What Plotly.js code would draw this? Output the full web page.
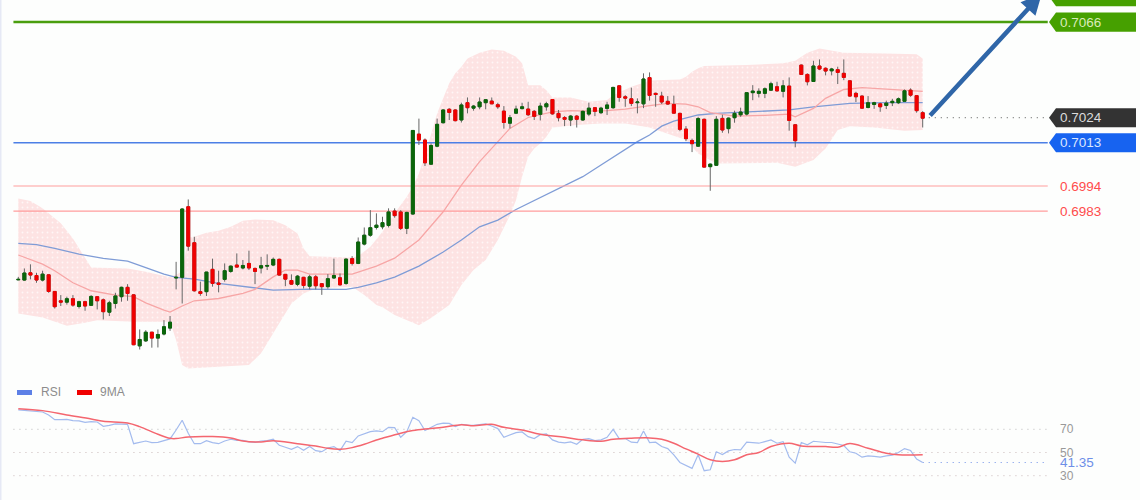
<!DOCTYPE html>
<html>
<head>
<meta charset="utf-8">
<script src="https://cdn.plot.ly/plotly-3.0.1.min.js"></script>
<style>
  html, body { margin: 0; padding: 0; background: #fdfefd; }
  #chart { width: 1140px; height: 500px; }
</style>
</head>
<body>
<div id="chart"></div>
<script>
// candles
const opens = [
  0.69528,0.69527,0.69559,0.69547,0.69527,0.69550,0.69477,0.69436,0.69430,0.69445,
  0.69411,0.69432,0.69416,0.69454,0.69440,0.69386,0.69424,0.69454,0.69495,0.69462,
  0.69238,0.69260,0.69298,0.69272,0.69290,0.69316,0.69536,0.69539,0.69849,0.69691,
  0.69476,0.69476,0.69574,0.69514,0.69530,0.69565,0.69593,0.69580,0.69600,0.69578,
  0.69580,0.69588,0.69593,0.69618,0.69552,0.69525,0.69508,0.69539,0.69500,0.69541,
  0.69511,0.69498,0.69536,0.69537,0.69512,0.69621,0.69600,0.69685,0.69724,0.69758,
  0.69761,0.69767,0.69830,0.69826,0.69754,0.69817,0.70168,0.70142,0.70036,0.70115,
  0.70218,0.70277,0.70274,0.70230,0.70306,0.70282,0.70288,0.70306,0.70313,0.70297,
  0.70269,0.70216,0.70260,0.70280,0.70278,0.70268,0.70255,0.70288,0.70320,0.70259,
  0.70241,0.70230,0.70247,0.70230,0.70256,0.70284,0.70262,0.70281,0.70284,0.70380,
  0.70332,0.70323,0.70306,0.70301,0.70416,0.70347,0.70335,0.70312,0.70298,0.70259,
  0.70190,0.70140,0.70115,0.70233,0.70025,0.70031,0.70237,0.70192,0.70240,0.70253,
  0.70256,0.70350,0.70347,0.70347,0.70361,0.70376,0.70356,0.70379,0.70209,0.70471,
  0.70430,0.70399,0.70467,0.70457,0.70446,0.70451,0.70435,0.70402,0.70347,0.70335,
  0.70285,0.70298,0.70301,0.70294,0.70306,0.70306,0.70312,0.70361,0.70337,0.70262
];
const closes = [
  0.69530,0.69558,0.69549,0.69527,0.69553,0.69477,0.69410,0.69430,0.69445,0.69417,
  0.69432,0.69413,0.69455,0.69436,0.69388,0.69427,0.69457,0.69495,0.69468,0.69243,
  0.69266,0.69298,0.69272,0.69288,0.69322,0.69342,0.69539,0.69839,0.69676,0.69480,
  0.69468,0.69562,0.69512,0.69508,0.69568,0.69588,0.69584,0.69591,0.69580,0.69565,
  0.69590,0.69591,0.69618,0.69549,0.69531,0.69509,0.69544,0.69503,0.69541,0.69502,
  0.69498,0.69533,0.69547,0.69506,0.69619,0.69600,0.69694,0.69724,0.69757,0.69768,
  0.69779,0.69826,0.69810,0.69754,0.69824,0.70184,0.70142,0.70042,0.70118,0.70211,
  0.70274,0.70263,0.70227,0.70296,0.70284,0.70291,0.70309,0.70319,0.70301,0.70288,
  0.70219,0.70240,0.70278,0.70288,0.70253,0.70246,0.70291,0.70301,0.70257,0.70240,
  0.70233,0.70247,0.70233,0.70268,0.70282,0.70268,0.70282,0.70296,0.70373,0.70329,
  0.70326,0.70303,0.70309,0.70410,0.70338,0.70342,0.70309,0.70300,0.70260,0.70189,
  0.70148,0.70126,0.70236,0.70023,0.70036,0.70233,0.70186,0.70238,0.70259,0.70265,
  0.70350,0.70357,0.70356,0.70367,0.70389,0.70358,0.70380,0.70228,0.70139,0.70430,
  0.70398,0.70467,0.70454,0.70445,0.70454,0.70439,0.70417,0.70335,0.70332,0.70282,
  0.70306,0.70306,0.70288,0.70304,0.70312,0.70323,0.70358,0.70339,0.70271,0.70238
];
const highs = [
  0.69541,0.69578,0.69596,0.69559,0.69568,0.69552,0.69477,0.69461,0.69454,0.69461,
  0.69436,0.69436,0.69461,0.69457,0.69446,0.69436,0.69471,0.69498,0.69509,0.69465,
  0.69310,0.69307,0.69299,0.69310,0.69351,0.69369,0.69607,0.69842,0.69881,0.69717,
  0.69520,0.69563,0.69621,0.69568,0.69600,0.69591,0.69644,0.69615,0.69656,0.69582,
  0.69629,0.69640,0.69626,0.69621,0.69553,0.69552,0.69549,0.69541,0.69550,0.69549,
  0.69512,0.69553,0.69621,0.69556,0.69621,0.69632,0.69714,0.69758,0.69834,0.69820,
  0.69805,0.69842,0.69842,0.69834,0.69827,0.70184,0.70236,0.70149,0.70127,0.70236,
  0.70277,0.70282,0.70277,0.70306,0.70329,0.70296,0.70329,0.70320,0.70329,0.70306,
  0.70291,0.70252,0.70293,0.70306,0.70310,0.70274,0.70306,0.70310,0.70320,0.70274,
  0.70247,0.70252,0.70252,0.70271,0.70306,0.70285,0.70288,0.70310,0.70376,0.70383,
  0.70339,0.70372,0.70325,0.70435,0.70439,0.70350,0.70354,0.70335,0.70337,0.70262,
  0.70203,0.70148,0.70244,0.70236,0.70039,0.70247,0.70253,0.70241,0.70271,0.70284,
  0.70350,0.70383,0.70369,0.70373,0.70398,0.70398,0.70405,0.70417,0.70212,0.70474,
  0.70435,0.70490,0.70496,0.70461,0.70459,0.70464,0.70496,0.70405,0.70354,0.70338,
  0.70335,0.70310,0.70306,0.70315,0.70323,0.70329,0.70364,0.70369,0.70339,0.70269
];
const lows = [
  0.69527,0.69524,0.69530,0.69515,0.69521,0.69471,0.69402,0.69413,0.69419,0.69410,
  0.69402,0.69392,0.69413,0.69398,0.69354,0.69369,0.69402,0.69432,0.69436,0.69241,
  0.69222,0.69255,0.69230,0.69231,0.69284,0.69304,0.69486,0.69424,0.69656,0.69476,
  0.69458,0.69457,0.69498,0.69473,0.69520,0.69559,0.69582,0.69574,0.69571,0.69509,
  0.69556,0.69571,0.69588,0.69546,0.69500,0.69506,0.69500,0.69490,0.69486,0.69486,
  0.69462,0.69489,0.69533,0.69503,0.69506,0.69591,0.69597,0.69679,0.69717,0.69749,
  0.69750,0.69758,0.69801,0.69747,0.69729,0.69814,0.70120,0.70028,0.70033,0.70110,
  0.70215,0.70230,0.70224,0.70219,0.70259,0.70271,0.70277,0.70277,0.70300,0.70279,
  0.70192,0.70193,0.70256,0.70277,0.70247,0.70230,0.70228,0.70271,0.70253,0.70224,
  0.70203,0.70203,0.70197,0.70227,0.70247,0.70247,0.70256,0.70252,0.70279,0.70310,
  0.70288,0.70291,0.70259,0.70282,0.70315,0.70288,0.70300,0.70296,0.70259,0.70181,
  0.70137,0.70089,0.70113,0.70022,0.69919,0.70028,0.70174,0.70171,0.70218,0.70244,
  0.70250,0.70317,0.70329,0.70326,0.70358,0.70354,0.70329,0.70183,0.70110,0.70429,
  0.70382,0.70397,0.70449,0.70426,0.70426,0.70388,0.70405,0.70332,0.70309,0.70279,
  0.70281,0.70279,0.70266,0.70278,0.70291,0.70300,0.70309,0.70332,0.70262,0.70197
];

// bollinger envelope, sampled at the candle index where it could be read
const upperIdx = [0,2,4,7,9,11,12,18,21,25,27,28,29,31,33,35,37,39,42,44,46,47,48,55,56,58,60,62,64,65,66,67,68,69,70,71,72,73,74,76,78,80,82,83,84,86,87,88,91,94,97,98,101,104,105,109,110,111,112,113,120,126,128,129,130,132,136,143,148,149];
const upperBand = [0.69885,0.69874,0.69842,0.69776,0.69710,0.69622,0.69582,0.69578,0.69563,0.69539,0.69563,0.69714,0.69717,0.69735,0.69743,0.69761,0.69787,0.69793,0.69790,0.69768,0.69732,0.69666,0.69632,0.69626,0.69632,0.69673,0.69739,0.69820,0.69893,0.69937,0.69995,0.70076,0.70171,0.70259,0.70325,0.70391,0.70435,0.70464,0.70500,0.70525,0.70540,0.70534,0.70508,0.70479,0.70383,0.70383,0.70361,0.70329,0.70329,0.70310,0.70318,0.70339,0.70376,0.70402,0.70405,0.70408,0.70420,0.70442,0.70457,0.70467,0.70471,0.70479,0.70490,0.70508,0.70525,0.70544,0.70525,0.70522,0.70519,0.70500];
const lowerIdx = [0,4,8,11,13,19,25,26,27,28,38,40,43,45,47,49,55,57,59,60,62,66,68,71,73,75,77,79,80,81,82,83,84,85,86,87,88,92,96,100,104,106,110,112,115,125,128,131,133,135,137,141,146,149];
const lowerBand = [0.69380,0.69363,0.69326,0.69339,0.69351,0.69344,0.69344,0.69263,0.69154,0.69139,0.69154,0.69205,0.69337,0.69424,0.69468,0.69490,0.69498,0.69461,0.69417,0.69408,0.69373,0.69329,0.69360,0.69417,0.69505,0.69571,0.69615,0.69703,0.69754,0.69812,0.69878,0.69981,0.70069,0.70105,0.70127,0.70156,0.70197,0.70208,0.70215,0.70215,0.70197,0.70178,0.70142,0.70083,0.70039,0.70042,0.70025,0.70054,0.70105,0.70186,0.70203,0.70197,0.70183,0.70186];

// moving averages on the price panel
const midIdx = [0,2,4,6,9,12,16,19,21,24,25,27,29,33,37,39,42,44,46,48,55,57,59,62,66,70,73,76,79,81,84,85,88,91,94,97,100,104,107,110,112,114,118,123,127,128,131,133,136,139,145,149];
const midLine = [0.69637,0.69618,0.69597,0.69568,0.69515,0.69480,0.69461,0.69454,0.69427,0.69395,0.69386,0.69413,0.69436,0.69446,0.69468,0.69486,0.69541,0.69571,0.69571,0.69553,0.69553,0.69571,0.69588,0.69623,0.69703,0.69827,0.69944,0.70047,0.70135,0.70193,0.70241,0.70247,0.70266,0.70271,0.70269,0.70271,0.70278,0.70293,0.70303,0.70300,0.70288,0.70262,0.70247,0.70250,0.70256,0.70244,0.70281,0.70325,0.70364,0.70372,0.70361,0.70356];
const slowIdx = [0,3,6,10,14,18,21,24,26,29,33,38,42,48,54,56,59,62,66,70,73,76,79,82,90,93,96,102,104,106,108,112,115,120,127,131,137,143,149];
const slowLine = [0.69688,0.69683,0.69666,0.69641,0.69622,0.69610,0.69582,0.69553,0.69539,0.69531,0.69512,0.69495,0.69483,0.69487,0.69486,0.69495,0.69515,0.69540,0.69588,0.69650,0.69703,0.69761,0.69790,0.69837,0.69944,0.69981,0.70032,0.70135,0.70164,0.70203,0.70225,0.70252,0.70259,0.70266,0.70274,0.70288,0.70303,0.70306,0.70306];

// RSI panel, one reading per candle
const rsiValues = [
  86.7,86.4,85.8,85.2,84.9,82.4,78.3,78.3,78.6,77.5,
  77.2,76.0,76.6,76.3,72.6,73.4,74.6,74.5,74.3,57.6,
  58.8,59.9,58.5,58.8,60.2,61.7,69.4,77.8,66.6,57.6,
  57.6,60.2,58.5,57.6,59.9,61.4,60.5,60.5,59.1,58.8,
  59.9,60.2,61.4,56.2,54.5,52.8,55.1,51.9,55.1,51.6,
  50.7,53.9,55.1,51.6,59.7,58.5,64.3,66.3,68.0,68.6,
  68.0,71.7,71.4,63.1,68.0,80.3,77.4,68.9,71.7,74.3,
  75.4,75.1,72.3,74.3,73.7,73.4,74.0,74.6,72.9,70.6,
  63.1,64.9,67.1,67.7,63.7,62.0,65.4,66.0,60.9,58.9,
  58.3,59.1,57.1,61.4,62.0,60.3,60.9,63.1,70.0,62.0,
  62.0,58.9,58.6,68.6,58.6,58.9,55.1,53.4,48.0,41.4,
  38.6,36.3,48.0,34.3,35.1,50.6,48.3,51.4,52.6,52.3,
  58.9,58.6,58.0,59.4,60.9,58.0,59.4,46.0,40.9,58.6,
  56.6,59.7,59.1,58.6,58.6,57.1,56.0,50.6,49.4,46.0,
  47.1,46.6,46.0,47.1,47.7,50.0,53.4,51.7,44.3,41.35
];
const maIdx = [0,4,8,12,14,18,20,23,25,26,28,32,35,37,40,42,46,49,51,53,55,57,59,60,63,65,67,70,73,75,78,80,83,86,90,93,96,98,101,104,106,108,110,112,114,116,118,120,122,124,127,129,133,135,137,140,143,145,149];
const maValues = [87.8,86.1,82.4,78.9,76.9,75.5,72.3,65.7,62.2,62.0,63.4,63.7,62.5,59.9,59.1,60.2,57.6,55.6,53.6,52.8,54.2,57.1,60.8,62.3,66.6,68.9,70.3,71.7,74.0,73.1,74.3,71.7,69.4,65.7,63.1,60.9,59.7,61.4,62.3,62.6,61.4,58.0,53.1,48.6,43.7,42.3,43.7,48.0,50.0,55.1,58.0,55.7,55.1,54.6,57.7,53.7,49.4,48.0,48.0];

// horizontal levels
const greenLevel = 0.7066;
const blueLevel = 0.7013;
const lastPrice = 0.7024;
const redLevels = [0.6994, 0.6983];
const topLevel = 0.70772;
const rsiGuides = [70, 50, 30];
const rsiLast = 41.35;

const candleIdx = opens.map((_, i) => i);
const X_RANGE = [-3.015, 184.8];
const Y_RANGE = [0.68561, 0.70757];
const RSI_RANGE = [9.05, 440.1];
const LEVEL_X = [-0.8, 169.6];

const font = '"Liberation Sans", Arial, sans-serif';
const pxX = px => px / 1140;
const pxY = px => 1 - px / 500;

function levelTrace(value, color, width, dash, from) {
    return {
        type: 'scatter', mode: 'lines', x: [from === undefined ? LEVEL_X[0] : from, LEVEL_X[1]], y: [value, value],
        xaxis: 'x', yaxis: 'y', hoverinfo: 'skip',
        line: { color, width, dash: dash || 'solid' }
    };
}

function rsiGuide(value, color, from) {
    return {
        type: 'scatter', mode: 'lines', x: [from === undefined ? LEVEL_X[0] : from, LEVEL_X[1]], y: [value, value],
        xaxis: 'x', yaxis: 'y3', hoverinfo: 'skip',
        line: { color, width: 1, dash: '1px 5px' }
    };
}

const traces = [
    // band behind everything
    {
        type: 'scatter', mode: 'lines', hoverinfo: 'skip',
        x: upperIdx.concat(lowerIdx.slice().reverse()),
        y: upperBand.concat(lowerBand.slice().reverse()),
        fill: 'toself', line: { width: 0 },
        fillcolor: '#fde3e3',
        fillpattern: { shape: '.', bgcolor: '#fde3e3', fgcolor: '#fff6f6', size: 5, solidity: 0.12 }
    },
    { type: 'scatter', mode: 'lines', x: slowIdx, y: slowLine, hoverinfo: 'skip', line: { color: '#7f9cd6', width: 1.3 } },
    { type: 'scatter', mode: 'lines', x: midIdx, y: midLine, hoverinfo: 'skip', line: { color: '#f7a6a6', width: 1.3 } },
    levelTrace(greenLevel, '#4a9e0e', 2.5),
    levelTrace(blueLevel, '#4c7fe6', 1.5),
    levelTrace(redLevels[0], '#ff9d9d', 1.2),
    levelTrace(redLevels[1], '#ff9d9d', 1.2),
    levelTrace(lastPrice, '#555555', 1, '1px 5px', 150),
    // wicks, then bodies on top
    {
        type: 'candlestick', x: candleIdx, open: opens, close: closes, high: highs, low: lows,
        xaxis: 'x', yaxis: 'y2', whiskerwidth: 0, hoverinfo: 'skip',
        increasing: { line: { color: '#666666', width: 1 }, fillcolor: '#666666' },
        decreasing: { line: { color: '#666666', width: 1 }, fillcolor: '#666666' }
    },
    {
        type: 'candlestick', x: candleIdx, open: opens, close: closes,
        high: opens.map((o, i) => Math.max(o, closes[i])),
        low: opens.map((o, i) => Math.min(o, closes[i])),
        xaxis: 'x', yaxis: 'y2', whiskerwidth: 0, hoverinfo: 'skip',
        increasing: { line: { color: '#0a660a', width: 1 }, fillcolor: '#0a660a' },
        decreasing: { line: { color: '#f00000', width: 1 }, fillcolor: '#f00000' }
    },
    rsiGuide(rsiGuides[0], '#b9b9b9'),
    rsiGuide(rsiGuides[1], '#c9b9b9'),
    rsiGuide(rsiGuides[2], '#c9b9b9'),
    rsiGuide(rsiLast, '#6e8fe8', 149),
    { type: 'scatter', mode: 'lines', x: candleIdx, y: rsiValues, xaxis: 'x', yaxis: 'y3', hoverinfo: 'skip', line: { color: '#a3bbee', width: 1.2 } },
    { type: 'scatter', mode: 'lines', x: maIdx, y: maValues, xaxis: 'x', yaxis: 'y3', hoverinfo: 'skip', line: { color: '#f4666f', width: 1.5, shape: 'spline' } }
];

// price tag with a pointed left side
function tagShape(value, color) {
    const h = 0.00042;
    const x0 = pxX(1049), x1 = pxX(1056), x2 = pxX(1136);
    return {
        type: 'path', xref: 'paper', yref: 'y', line: { width: 0 }, fillcolor: color,
        path: `M ${x0},${value} L ${x1},${value + h} L ${x2},${value + h} L ${x2},${value - h} L ${x1},${value - h} Z`
    };
}

function priceText(value, color) {
    return {
        xref: 'paper', yref: 'y', x: pxX(1058), y: value, xanchor: 'left', yanchor: 'middle',
        text: value.toFixed(4), showarrow: false, font: { family: font, size: 13.5, color }
    };
}

function paperText(text, px, py, size, color) {
    return {
        xref: 'paper', yref: 'paper', x: pxX(px), y: pxY(py), xanchor: 'left', yanchor: 'middle',
        text, showarrow: false, font: { family: font, size, color }
    };
}

function rsiText(text, value, size, color) {
    return {
        xref: 'paper', yref: 'y3', x: pxX(1058), y: value, xanchor: 'left', yanchor: 'middle',
        text, showarrow: false, font: { family: font, size, color }
    };
}

const layout = {
    width: 1140, height: 500,
    margin: { l: 0, r: 0, t: 0, b: 0 },
    paper_bgcolor: '#fdfefd', plot_bgcolor: '#fdfefd',
    showlegend: false,
    xaxis: { range: X_RANGE, visible: false, fixedrange: true, type: 'linear', rangeslider: { visible: false } },
    yaxis: { range: Y_RANGE, visible: false, fixedrange: true },
    yaxis2: { range: Y_RANGE, visible: false, fixedrange: true, overlaying: 'y' },
    yaxis3: { range: RSI_RANGE, visible: false, fixedrange: true, overlaying: 'y' },
    shapes: [
        tagShape(topLevel, '#46a000'),
        tagShape(greenLevel, '#46a000'),
        tagShape(lastPrice, '#333333'),
        tagShape(blueLevel, '#1763f0'),
        // page edge on the left
        { type: 'rect', xref: 'paper', yref: 'paper', x0: 0, x1: pxX(1.5), y0: 0, y1: 1, line: { width: 0 }, fillcolor: '#e6e9f5' },
        // legend swatches
        { type: 'rect', xref: 'paper', yref: 'paper', x0: pxX(17), x1: pxX(32), y0: pxY(395), y1: pxY(390), line: { width: 0 }, fillcolor: '#5d80e6' },
        { type: 'rect', xref: 'paper', yref: 'paper', x0: pxX(77), x1: pxX(92), y0: pxY(395), y1: pxY(390), line: { width: 0 }, fillcolor: '#f00000' }
    ],
    annotations: [
        priceText(greenLevel, '#d9ecb8'),
        priceText(lastPrice, '#dcdcdc'),
        priceText(blueLevel, '#dbe6ff'),
        priceText(redLevels[0], '#ff4c4c'),
        priceText(redLevels[1], '#ff4c4c'),
        paperText('RSI', 39, 392, 12, '#8c8c8c'),
        paperText('9MA', 98, 392, 12, '#8c8c8c'),
        rsiText('70', 70, 12, '#999999'),
        rsiText('50', 50, 12, '#999999'),
        rsiText('30', 30, 12, '#999999'),
        rsiText('41.35', rsiLast, 13.5, '#6e8fe8'),
        // big arrow running off the top of the picture
        {
            xref: 'x', yref: 'y', axref: 'x', ayref: 'y',
            x: 168.6, y: 0.70783, ax: 150.0, ay: 0.70243,
            text: '', showarrow: true, arrowhead: 2, arrowsize: 0.9, arrowwidth: 4.5, arrowcolor: '#2f66a8'
        }
    ]
};

Plotly.newPlot('chart', traces, layout, { staticPlot: true, displayModeBar: false });
</script>
</body>
</html>
